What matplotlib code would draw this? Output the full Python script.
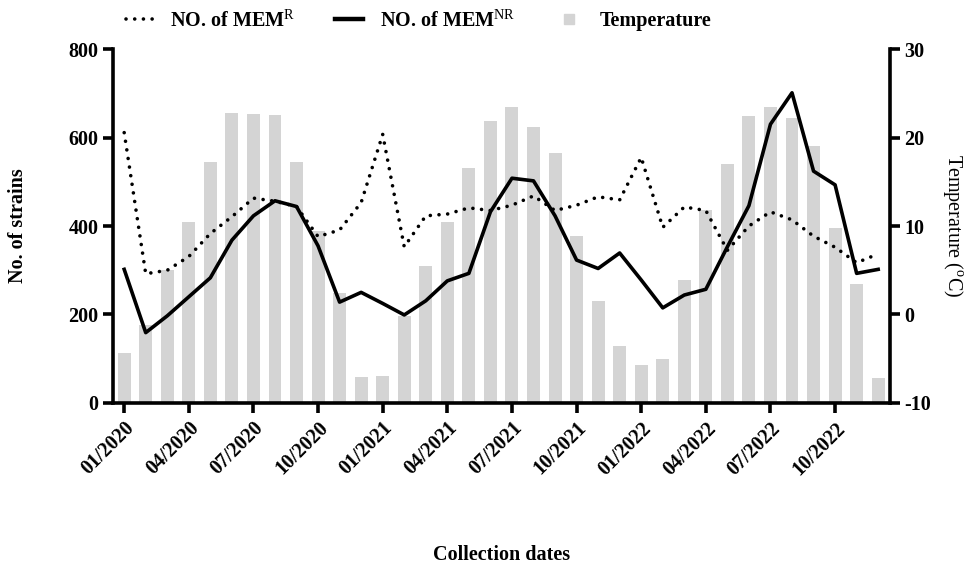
import matplotlib
matplotlib.use("Agg")
import matplotlib.pyplot as plt
from matplotlib.lines import Line2D
import numpy as np

plt.rcParams['font.family'] = ['Liberation Serif', 'DejaVu Serif']
plt.rcParams['mathtext.fontset'] = 'custom'
plt.rcParams['mathtext.rm'] = 'Liberation Serif'
plt.rcParams['mathtext.bf'] = 'Liberation Serif:bold'
plt.rcParams['axes.unicode_minus'] = False

# monthly data, 01/2020 .. 12/2022
months = [f"{m:02d}/{y}" for y in (2020, 2021, 2022) for m in range(1, 13)]
mem_r = [611, 292, 300, 331, 383, 421, 463, 456, 444, 376, 391, 453,
         607, 353, 423, 427, 441, 435, 447, 468, 435, 447, 466, 459,
         555, 397, 443, 435, 345, 400, 432, 414, 377, 352, 317, 337]
mem_nr = [302, 159, 197, 240, 283, 368, 423, 457, 444, 355, 228, 250,
          225, 199, 231, 276, 293, 432, 508, 502, 423, 323, 304, 339,
          278, 215, 244, 257, 353, 446, 630, 701, 524, 493, 293, 302]
temperature = [-4.3, -1.2, 5.0, 10.4, 17.2, 22.8, 22.7, 22.5, 17.2, 9.4, 2.4, -7.1,
               -6.9, -0.2, 5.5, 10.4, 16.6, 21.9, 23.4, 21.2, 18.2, 8.9, 1.5, -3.6,
               -5.7, -5.0, 3.9, 11.8, 17.0, 22.4, 23.4, 22.2, 19.0, 9.8, 3.4, -7.2]

x = np.arange(len(months))
temp_floor = -10
bar_color = '#d4d4d4'
fs = 14.5

fig = plt.figure(figsize=(9.69, 5.66), dpi=100)
ax = fig.add_axes([0.1166, 0.288, 0.8019, 0.6254])
ax2 = ax.twinx()

# temperature bars on right axis, behind lines
ax2.bar(x, np.array(temperature) - temp_floor, bottom=temp_floor, width=0.6,
        color=bar_color)
ax2.set_ylim(-10, 30)
ax2.set_yticks([-10, 0, 10, 20, 30])

ax.set_zorder(ax2.get_zorder() + 1)
ax.patch.set_visible(False)

ax.plot(x, mem_r, color='black', lw=2.6, linestyle=(0, (0.01, 2.4)),
        dash_capstyle='round')
ax.plot(x, mem_nr, color='black', lw=2.6)

ax.set_ylim(0, 800)
ax.set_yticks([0, 200, 400, 600, 800])
ax.set_xlim(-0.52, 35.55)
ax.set_xticks(x[::3])
ax.set_xticklabels(months[::3], rotation=45, ha='right', va='top',
                   rotation_mode='anchor', fontweight='bold', fontsize=fs)

for a in (ax, ax2):
    a.spines['top'].set_visible(False)
    for s in ('left', 'right', 'bottom'):
        a.spines[s].set_linewidth(2.6)
    a.tick_params(width=2.6, length=7, labelsize=fs)
    for lab in a.get_yticklabels():
        lab.set_fontweight('bold')
ax.spines['right'].set_visible(False)
ax2.spines['left'].set_visible(False)
ax2.spines['bottom'].set_visible(False)
ax.tick_params(axis='x', pad=4)

ax.set_ylabel('No. of strains', fontsize=fs, fontweight='bold')
ax.yaxis.set_label_coords(-0.109, 0.5)
ax2.set_ylabel('Temperature ($^{\\mathrm{o}}$C)', fontsize=fs, rotation=270,
               va='bottom')
ax2.yaxis.set_label_coords(1.065, 0.5)
ax.set_xlabel('Collection dates', fontsize=fs, fontweight='bold')
ax.xaxis.set_label_coords(0.5, -0.40)

handles = [
    Line2D([], [], color='black', lw=2.6, linestyle=(0, (0.01, 2.4)),
           dash_capstyle='round'),
    Line2D([], [], color='black', lw=3.2),
    Line2D([], [], color=bar_color, marker='s', markersize=7, linestyle='none'),
]
labels = ['NO. of MEM$^{\\mathrm{R}}$', 'NO. of MEM$^{\\mathrm{NR}}$', 'Temperature']
fig.legend(handles, labels, loc='center', bbox_to_anchor=(0.432, 0.964), ncol=3,
           frameon=False, prop={'weight': 'bold', 'size': fs},
           handlelength=1.35, columnspacing=2.0, handletextpad=0.85)

fig.savefig('out.png', dpi=100)
